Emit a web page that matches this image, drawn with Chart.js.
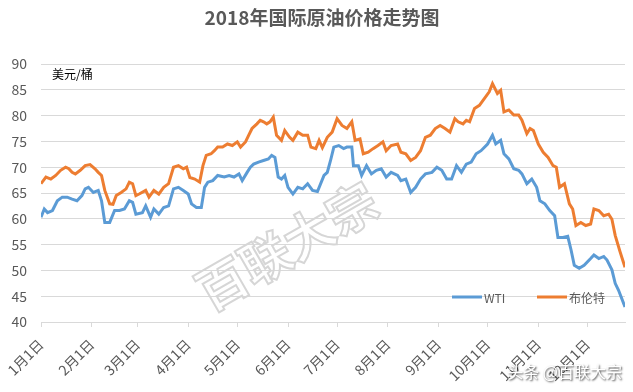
<!DOCTYPE html>
<html>
<head>
<meta charset="utf-8">
<script src="https://cdn.jsdelivr.net/npm/chart.js@4.4.1/dist/chart.umd.min.js"></script>
<style>
  html, body { margin: 0; padding: 0; background: #fff; }
  #wrap { width: 633px; height: 392px; position: relative; }
</style>
</head>
<body>
<div id="wrap"><canvas id="lineChart" width="633" height="392"></canvas></div>
<script>
// 2018 day-of-year (0 = 1月1日) and price
const brentDays = [0,3,6,9,12,15,17,19,21,24,27,30,33,35,37,39,42,44,46,49,52,54,56,58,60,64,66,69,72,75,78,81,84,87,89,91,94,97,99,101,104,106,108,111,114,117,120,122,125,127,129,132,134,136,138,140,142,144,147,149,152,154,157,160,163,165,168,170,172,175,178,181,184,187,190,192,195,197,200,203,206,209,211,214,218,220,223,226,229,232,235,238,241,244,247,250,253,255,258,260,262,265,268,271,274,276,279,281,283,286,289,292,294,297,299,301,304,307,310,313,315,317,320,323,325,327,330,333,336,338,341,344,347,349,351,354,357];
const brentValues = [66.8,68.1,67.7,68.4,69.4,70.0,69.7,69.0,68.7,69.4,70.3,70.5,69.7,69.0,68.4,65.5,62.9,62.8,64.5,65.1,65.8,67.1,66.8,64.5,64.8,65.5,64.2,65.5,64.8,66.1,66.8,70.0,70.3,69.7,70.0,68.0,67.7,67.1,70.3,72.3,72.6,73.2,73.9,73.9,74.5,74.2,74.9,73.9,74.9,76.2,77.5,78.4,79.1,78.8,78.4,78.8,79.7,76.2,75.2,77.1,75.8,75.2,76.8,76.2,76.2,73.9,73.6,75.2,73.8,75.8,76.8,79.4,78.1,77.5,78.8,75.2,75.5,72.6,72.9,73.6,74.2,74.9,73.2,74.2,74.5,72.9,72.6,71.3,71.9,73.2,75.8,76.2,77.5,78.1,77.5,76.8,79.4,78.8,78.4,79.1,78.8,81.4,82.0,83.3,84.6,86.2,84.3,84.9,80.7,81.1,80.1,80.1,79.1,76.5,77.5,77.1,74.5,72.9,71.9,70.3,70.0,66.1,66.8,62.9,61.9,58.7,59.3,58.7,59.0,61.9,61.6,60.6,60.9,59.9,56.8,53.6,50.6];

const wtiDays = [0,2,4,7,10,13,16,19,22,25,27,29,32,35,37,39,42,45,48,51,54,56,58,62,64,67,69,72,75,78,81,84,87,90,92,95,98,100,102,105,108,112,115,118,121,123,126,128,130,133,136,139,141,143,145,147,149,151,154,157,160,163,166,169,173,175,177,179,182,185,187,190,191,194,196,199,202,205,208,211,214,218,220,223,226,229,232,235,239,242,245,248,251,254,257,260,263,266,269,273,276,278,281,283,286,289,292,294,297,300,303,305,308,311,314,316,319,322,324,326,329,332,336,338,341,344,346,349,351,353,357];
const wtiValues = [60.3,61.9,61.2,61.6,63.5,64.2,64.2,63.8,63.5,64.5,65.8,66.1,65.1,65.5,63.5,59.3,59.3,61.6,61.6,61.9,63.5,63.2,60.9,61.2,62.5,60.3,61.9,60.9,62.2,62.5,65.8,66.1,65.5,64.8,62.9,62.2,62.2,66.1,67.1,67.4,68.4,68.1,68.4,68.1,68.7,67.4,69.0,70.0,70.6,71.0,71.3,71.6,72.3,71.9,68.1,67.7,68.4,66.1,64.8,66.1,65.8,66.8,65.5,65.3,68.4,69.0,71.3,73.9,74.2,73.6,73.9,73.9,70.3,70.3,68.4,70.3,68.7,69.4,69.7,68.1,69.0,68.4,67.4,67.7,65.1,66.1,67.7,68.7,69.0,70.0,69.4,67.7,67.7,70.3,69.0,70.6,71.0,72.6,73.2,74.5,76.2,74.5,75.2,72.6,71.6,69.7,69.4,68.7,66.8,67.7,66.1,63.5,62.9,61.6,60.6,56.4,56.4,56.6,54.0,51.0,50.4,51.0,52.3,53.0,52.3,52.7,52.0,50.1,47.5,46.2,42.9];

const monthStartDays = [0,31,59,90,120,151,181,212,243,273,304,334];
const monthLabels = ['1月1日','2月1日','3月1日','4月1日','5月1日','6月1日','7月1日','8月1日','9月1日','10月1日','11月1日','12月1日'];

const seriesNames = ['WTI','布伦特'];
const seriesColors = ['#5B9BD5','#ED7D31'];
const chartTitle = '2018年国际原油价格走势图';

const FONT = '"Noto Sans CJK SC", "Noto Sans", sans-serif';

function toPoints(days, values) {
  return days.map((d, i) => ({ x: d, y: values[i] }));
}

// title, unit label, watermark and in-plot legend
const extras = {
  id: 'extras',
  beforeDatasetsDraw(chart) {
    const ctx = chart.ctx;
    const a = chart.chartArea;
    ctx.save();
    ctx.translate(a.left + 246, a.top + 182);
    ctx.rotate(-30 * Math.PI / 180);
    ctx.font = 'bold 50px ' + FONT;
    ctx.textAlign = 'center';
    ctx.textBaseline = 'middle';
    ctx.lineWidth = 2;
    ctx.strokeStyle = '#d6d6d6';
    ctx.strokeText('百联大宗', 0, 0);
    ctx.restore();
  },
  afterDraw(chart) {
    const ctx = chart.ctx;
    const a = chart.chartArea;
    ctx.save();
    ctx.fillStyle = '#595959';
    ctx.font = 'bold 19px ' + FONT;
    ctx.textAlign = 'center';
    ctx.textBaseline = 'middle';
    ctx.fillText(chartTitle, 322, 18);

    ctx.textAlign = 'left';
    ctx.fillStyle = '#000';
    ctx.font = '12px ' + FONT;
    ctx.fillText('美元/桶', a.left + 11, a.top + 10);

    // legend
    const ly = a.bottom - 25;
    const items = [[a.right - 173, seriesNames[0]], [a.right - 88, seriesNames[1]]];
    items.forEach(([lx, name], i) => {
      ctx.strokeStyle = seriesColors[i];
      ctx.lineWidth = 3;
      ctx.beginPath();
      ctx.moveTo(lx, ly);
      ctx.lineTo(lx + 30, ly);
      ctx.stroke();
      ctx.fillStyle = '#595959';
      ctx.font = '12px ' + FONT;
      ctx.fillText(name, lx + 32, ly + 1);
    });

    // source tag
    ctx.font = '16px ' + FONT;
    ctx.textAlign = 'right';
    ctx.shadowColor = 'rgba(0,0,0,0.75)';
    ctx.shadowBlur = 2;
    ctx.shadowOffsetX = 1;
    ctx.shadowOffsetY = 1;
    ctx.fillStyle = '#fff';
    ctx.fillText('头条 @百联大宗', 622, 372);
    ctx.restore();
  }
};

const lineChart = new Chart(document.getElementById('lineChart').getContext('2d'), {
  type: 'line',
  data: {
    datasets: [{
      label: seriesNames[0],
      data: toPoints(wtiDays, wtiValues),
      borderColor: seriesColors[0],
      borderWidth: 3,
      pointRadius: 0,
      tension: 0,
      fill: false
    }, {
      label: seriesNames[1],
      data: toPoints(brentDays, brentValues),
      borderColor: seriesColors[1],
      borderWidth: 3,
      pointRadius: 0,
      tension: 0,
      fill: false
    }]
  },
  options: {
    responsive: false,
    animation: false,
    layout: { padding: { left: 0, right: 8, top: 64, bottom: 0 } },
    plugins: {
      legend: { display: false },
      tooltip: { enabled: false },
      title: { display: false }
    },
    scales: {
      x: {
        type: 'linear',
        min: 0,
        max: 357,
        afterBuildTicks(scale) {
          scale.ticks = monthStartDays.map(v => ({ value: v }));
        },
        afterFit(scale) { scale.height = 70; },
        ticks: {
          autoSkip: false,
          minRotation: 45,
          maxRotation: 45,
          padding: 9,
          color: '#595959',
          font: { family: FONT, size: 14 },
          callback(value) {
            const i = monthStartDays.indexOf(value);
            return i >= 0 ? monthLabels[i] : '';
          }
        },
        grid: { drawOnChartArea: false, drawTicks: true, tickLength: 5, color: '#d9d9d9' },
        border: { display: true, color: '#d9d9d9' }
      },
      y: {
        min: 40,
        max: 90,
        afterFit(scale) { scale.width = 41; },
        ticks: {
          stepSize: 5,
          padding: 14,
          color: '#595959',
          font: { family: FONT, size: 14 }
        },
        grid: { color: '#d9d9d9', drawTicks: false },
        border: { display: false }
      }
    }
  },
  plugins: [extras]
});
</script>
</body>
</html>
